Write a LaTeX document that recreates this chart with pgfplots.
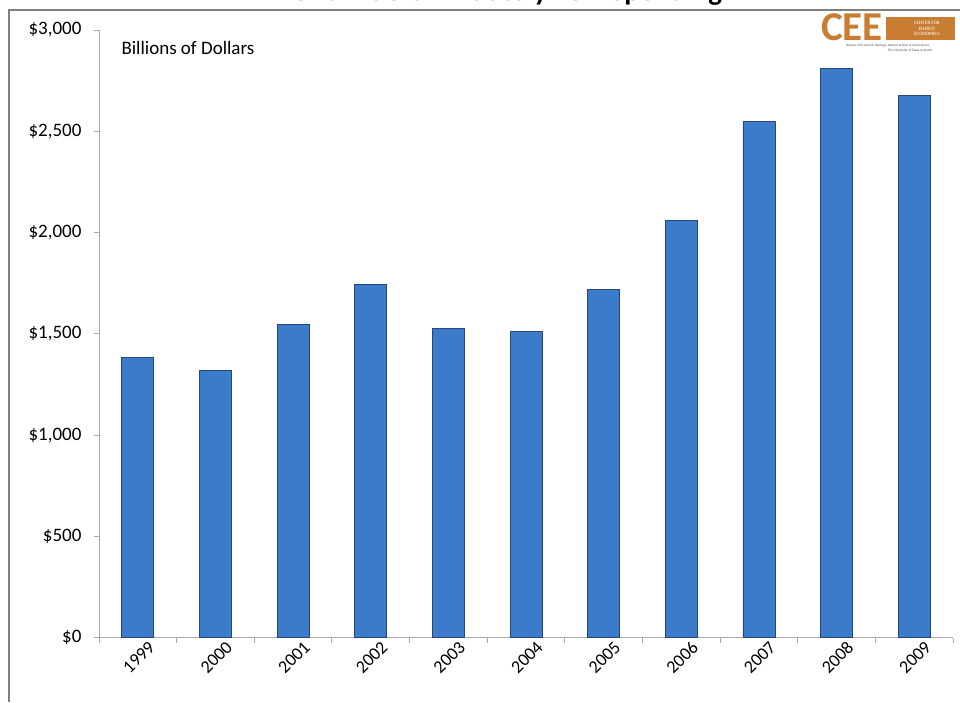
\documentclass[border=0pt]{standalone}
\usepackage{pgfplots}
\pgfplotsset{compat=1.18}
\usepackage{fontspec}
\setmainfont{Carlito}
\definecolor{framegray}{RGB}{128,128,128}
\definecolor{axisgray}{RGB}{170,170,170}
\definecolor{barfill}{RGB}{60,122,202}
\definecolor{bardraw}{RGB}{38,70,118}
\definecolor{ceeorange}{RGB}{200,125,50}
\begin{document}
\begin{tikzpicture}
\useasboundingbox (0pt,0pt) rectangle (960pt,-702pt);
\node[anchor=base, font=\bfseries\fontsize{29}{30}\selectfont] at (495pt,0pt) {Worldwide Oil Industry E\&P Spending};
\draw[framegray, line width=2pt] (9pt,-702pt) -- (9pt,-9.5pt) -- (960pt,-9.5pt);
\begin{axis}[
  at={(99pt,-637.7pt)}, anchor=south west,
  scale only axis, width=854pt, height=607.7pt,
  xmin=-0.5, xmax=10.5, ymin=0, ymax=3000,
  axis x line*=bottom, axis y line*=left,
  axis line style={draw=axisgray, line width=1pt},
  tick style={draw=axisgray, line width=1pt},
  major tick length=5pt, tick align=outside,
  ytick={0,500,...,3000},
  yticklabel={\$\pgfmathprintnumber{\tick}},
  /pgf/number format/1000 sep={,},
  /pgf/number format/assume math mode=true,
  yticklabel style={font=\fontsize{19}{22}\selectfont, text=black, xshift=-9pt},
  xtick={-0.5,0.5,...,10.5},
  x tick label as interval,
  xticklabels={1999,2000,2001,2002,2003,2004,2005,2006,2007,2008,2009},
  xticklabel style={rotate=45, anchor=east, font=\fontsize{18}{20}\selectfont, text=black, xshift=12pt, yshift=-11pt},
  ybar, bar width=32pt,
]
\addplot[draw=bardraw, line width=0.7pt, fill=barfill] coordinates {
(0,1385) (1,1320) (2,1545) (3,1745) (4,1525) (5,1510) (6,1720) (7,2060) (8,2548) (9,2810) (10,2675)
};
\end{axis}
\node[anchor=west, font=\fontsize{19}{22}\selectfont] at (118pt,-48pt) {Billions of Dollars};
% logo
\node[anchor=south west, inner sep=0pt, text=ceeorange, font=\bfseries\fontsize{41}{41}\selectfont] at (821pt,-41pt) {CEE};
\fill[ceeorange] (886pt,-17pt) rectangle (955pt,-40pt);
\node[align=center, text=white, inner sep=0pt, font=\fontsize{5}{5.5}\selectfont] at (927pt,-28.5pt) {CENTER FOR\\ENERGY\\ECONOMICS};
\node[inner sep=0pt, text=black!70, font=\fontsize{3.4}{4}\selectfont] at (888pt,-45.5pt) {Bureau of Economic Geology, Jackson School of Geosciences};
\node[inner sep=0pt, text=black!70, font=\fontsize{3.4}{4}\selectfont] at (910pt,-51pt) {The University of Texas at Austin};
\end{tikzpicture}
\end{document}
